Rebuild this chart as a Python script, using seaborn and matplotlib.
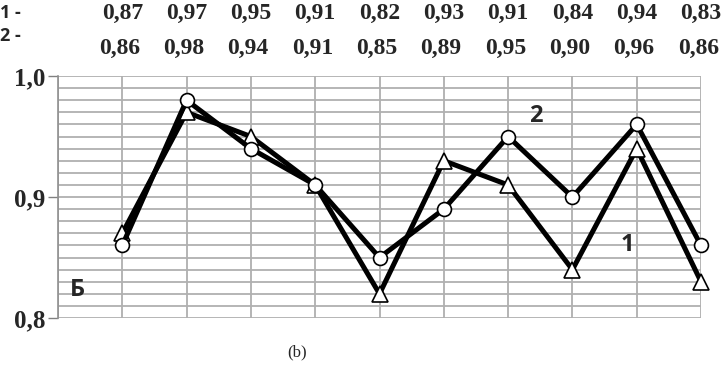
import numpy as np
import pandas as pd
import seaborn as sns
import matplotlib.pyplot as plt
from matplotlib.ticker import MultipleLocator

# dados das duas curvas (1 - triângulo, 2 - círculo)
pontos = list(range(1, 11))
serie_1 = [0.87, 0.97, 0.95, 0.91, 0.82, 0.93, 0.91, 0.84, 0.94, 0.83]
serie_2 = [0.86, 0.98, 0.94, 0.91, 0.85, 0.89, 0.95, 0.90, 0.96, 0.86]
rotulos_1 = ['0,87', '0,97', '0,95', '0,91', '0,82', '0,93', '0,91', '0,84', '0,94', '0,83']
rotulos_2 = ['0,86', '0,98', '0,94', '0,91', '0,85', '0,89', '0,95', '0,90', '0,96', '0,86']
ticks_y = [0.8, 0.9, 1.0]
labels_y = ['0,8', '0,9', '1,0']

sns.set_style('white')
fig = plt.figure(figsize=(7.23, 3.69), dpi=100)
ax = fig.add_axes([0.0802, 0.138, 0.8894, 0.656])

df1 = pd.DataFrame({'x': pontos, 'y': serie_1})
df2 = pd.DataFrame({'x': pontos, 'y': serie_2})
sns.lineplot(data=df1, x='x', y='y', ax=ax, color='black', lw=3.6,
             marker='^', markersize=11, zorder=3)
sns.lineplot(data=df2, x='x', y='y', ax=ax, color='black', lw=3.6,
             marker='o', markersize=10, zorder=4)
for ln in ax.lines:
    ln.set_markerfacecolor('white')
    ln.set_markeredgecolor('black')
    ln.set_markeredgewidth(1.2)
    ln.set_clip_on(False)

ax.set_xlim(0, 10)
ax.set_ylim(0.8, 1.0)
ax.set_xticks(range(0, 11))
ax.set_xticklabels([])
ax.tick_params(axis='x', length=0)
ax.set_yticks(ticks_y)
ax.set_yticklabels(labels_y, fontfamily='Liberation Serif', fontweight='bold', fontsize=18)
ax.yaxis.set_minor_locator(MultipleLocator(0.01))
ax.tick_params(axis='y', which='major', length=7, width=1, color='#808080', left=True, pad=2)
ax.tick_params(axis='y', which='minor', length=0)
ax.grid(True, which='both', axis='y', color='#b0b0b0', lw=1.3)
ax.grid(True, which='major', axis='x', color='#a8a8a8', lw=1.2)
ax.set_xlabel('')
ax.set_ylabel('')
for s in ['top', 'right', 'bottom']:
    ax.spines[s].set_visible(False)
ax.spines['left'].set_color('#909090')
ax.spines['left'].set_linewidth(1.2)

# valores no topo
for xi, t1, t2 in zip(pontos, rotulos_1, rotulos_2):
    ax.annotate(t1, (xi, 1.0), xytext=(0, 45), textcoords='offset points',
                ha='center', va='center', fontfamily='Liberation Serif',
                fontweight='bold', fontsize=17, annotation_clip=False)
    ax.annotate(t2, (xi, 1.0), xytext=(-2, 20), textcoords='offset points',
                ha='center', va='center', fontfamily='Liberation Serif',
                fontweight='bold', fontsize=17, annotation_clip=False)

fig.text(0.0, 369 - 13, '1 -', transform=None, fontsize=13, fontweight='bold',
         fontfamily='Open Sans', va='center')
fig.text(0.0, 369 - 36, '2 -', transform=None, fontsize=13, fontweight='bold',
         fontfamily='Open Sans', va='center')

ax.text(0.3, 0.823, 'Б', fontsize=17, fontweight='bold', fontfamily='Open Sans',
        ha='center', va='center')
ax.text(7.43, 0.967, '2', fontsize=17, fontweight='bold', fontfamily='Open Sans',
        ha='center', va='center')
ax.text(8.85, 0.860, '1', fontsize=17, fontweight='bold', fontfamily='Open Sans',
        ha='center', va='center')
fig.text(297 / 723, 1 - 352 / 369, '(b)', fontsize=12, fontfamily='Liberation Serif',
         ha='center', va='center')

plt.savefig('out.png', dpi=100)
